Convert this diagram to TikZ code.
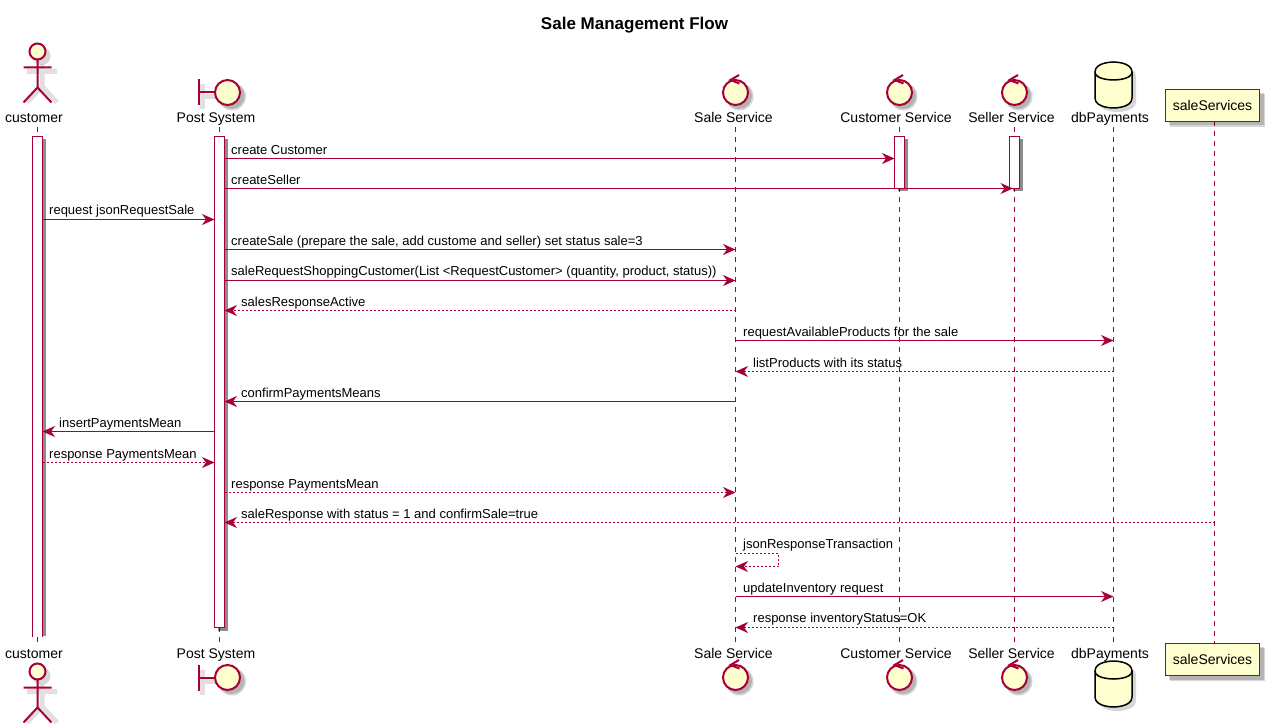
\documentclass[tikz,border=0pt]{standalone}
\usepackage{fontspec}
\setmainfont{Liberation Sans}
\usetikzlibrary{arrows.meta}
\usetikzlibrary{calc}
\usetikzlibrary{shadows}
\definecolor{umlred}{HTML}{A80036}
\definecolor{umlfill}{HTML}{FEFECE}
\tikzset{
  call/.style={draw=umlred, line width=1.15pt, -{Stealth[length=12.5pt,width=11pt,inset=4pt]}},
  reply/.style={call, dash pattern=on 2pt off 2pt},
  lifeline/.style={draw=umlred, line width=1.1pt, dash pattern=on 5pt off 5pt},
  barbox/.style={draw=umlred, line width=1.15pt, fill=white, minimum width=10pt, inner sep=0pt, outer sep=0pt,
    drop shadow={shadow xshift=3pt, shadow yshift=-3pt, fill=black, opacity=0.45}},
  msglabel/.style={anchor=base west, inner sep=0pt, font=\fontsize{13}{15}\selectfont},
  partlabel/.style={anchor=base, inner sep=0pt, font=\fontsize{14}{16}\selectfont},
  servicebox/.style={draw=umlred, line width=1.5pt, fill=umlfill, minimum width=94pt, minimum height=32pt, inner sep=0pt, outer sep=0pt,
    font=\fontsize{14}{16}\selectfont},
  figline/.style={draw=umlred, line width=2pt},
  softline/.style={draw=black, opacity=0.12, line width=5pt},
  softfill/.style={fill=black, opacity=0.16}
}
\begin{document}
\begin{tikzpicture}[x=1pt,y=-1pt]
\useasboundingbox (0,0) rectangle (1272,727);

% lifelines
\coordinate (lifeCustomer) at (37.5,0);
\coordinate (lifePost) at (219.5,0);
\coordinate (lifeSale) at (735.5,0);
\coordinate (lifeClient) at (899.5,0);
\coordinate (lifeSeller) at (1014.5,0);
\coordinate (lifeDb) at (1113.5,0);
\coordinate (lifeServices) at (1214.5,0);

\foreach \life in {lifeCustomer,lifePost,lifeSale,lifeClient,lifeSeller,lifeDb}
  \draw[lifeline] (\life |- 0,127) -- (\life |- 0,642);
\draw[lifeline] (lifeServices |- 0,121) -- (lifeServices |- 0,643);

\node[inner sep=0pt, font=\fontsize{17}{20}\bfseries\selectfont] (title) at (634.5,25) {Sale Management Flow};

% actor, top and bottom
\foreach \hy in {51.5,671.5}{
  \draw[softline] (42,\hy+13) -- (42,\hy+35) (27,\hy+20) -- (57,\hy+20) (27,\hy+51) -- (42,\hy+35) -- (57,\hy+51);
  \fill[softfill] (41.5,\hy+4.5) circle [radius=9];
  \draw[figline, fill=umlfill] (37.5,\hy) circle [radius=8];
  \draw[figline] (37.5,\hy+8) -- (37.5,\hy+36) (23.5,\hy+16) -- (51.5,\hy+16) (23.5,\hy+51) -- (37.5,\hy+36) -- (51.5,\hy+51);
}

% boundary, top and bottom
\foreach \hy in {92.5,677.5}{
  \draw[softline] (202,\hy-8) -- (202,\hy+17) (202,\hy+4) -- (220,\hy+4);
  \fill[softfill] (232,\hy+4) circle [radius=14];
  \fill[softfill] (231.5,\hy+3.5) circle [radius=13];
  \draw[figline] (198.5,\hy-13) -- (198.5,\hy+13) (198.5,\hy) -- (215,\hy);
  \draw[figline, fill=umlfill] (227.5,\hy) circle [radius=12.5];
}

% control, three services, top and bottom
\foreach \cx in {735.5,899.5,1014.5}{
  \foreach \hy in {92.5,677.5}{
    \fill[softfill] (\cx+4,\hy+4) circle [radius=14];
    \fill[softfill] (\cx+3.5,\hy+3.5) circle [radius=13];
    \draw[figline, fill=umlfill] (\cx,\hy) circle [radius=12.5];
    \draw[figline, line join=miter] (\cx+3.5,\hy-17.5) -- (\cx-5,\hy-12.5) -- (\cx+4,\hy-9);
  }
}

% database, top and bottom
\foreach \ty in {62,661}{
  \fill[softfill] (1099,\ty+14) .. controls (1099,\ty+4) and (1117,\ty+4) .. (1117,\ty+4) .. controls (1117,\ty+4) and (1136,\ty+4) .. (1136,\ty+14)
    -- (1136,\ty+40) .. controls (1136,\ty+50) and (1117,\ty+50) .. (1117,\ty+50) .. controls (1117,\ty+50) and (1099,\ty+50) .. (1099,\ty+40) -- cycle;
  \draw[line width=1.5pt, fill=umlfill] (1095,\ty+10) .. controls (1095,\ty) and (1113.5,\ty) .. (1113.5,\ty) .. controls (1113.5,\ty) and (1132,\ty) .. (1132,\ty+10)
    -- (1132,\ty+36) .. controls (1132,\ty+46) and (1113.5,\ty+46) .. (1113.5,\ty+46) .. controls (1113.5,\ty+46) and (1095,\ty+46) .. (1095,\ty+36) -- cycle;
  \draw[line width=1.5pt] (1095,\ty+10) .. controls (1095,\ty+18) and (1113.5,\ty+18) .. (1113.5,\ty+18) .. controls (1113.5,\ty+18) and (1132,\ty+18) .. (1132,\ty+10);
}

% saleServices boxes
\fill[softfill] (1170,94) rectangle (1265,127);
\fill[softfill] (1169,93) rectangle (1263.5,125.5);
\fill[softfill] (1170,648) rectangle (1265,681);
\fill[softfill] (1169,647) rectangle (1263.5,679.5);
\node[servicebox] (servicesTop) at (1212.5,105.5) {saleServices};
\node[servicebox] (servicesBottom) at (1212.5,659.5) {saleServices};

% participant names
\node[partlabel] (customerTop) at (34,123) {customer};
\node[partlabel] (postTop) at (216,123) {Post System};
\node[partlabel] (saleTop) at (733.5,123) {Sale Service};
\node[partlabel] (clientTop) at (896,123) {Customer Service};
\node[partlabel] (sellerTop) at (1011.5,123) {Seller Service};
\node[partlabel] (dbTop) at (1110,123) {dbPayments};
\node[partlabel] (customerBottom) at (34,658) {customer};
\node[partlabel] (postBottom) at (216,658) {Post System};
\node[partlabel] (saleBottom) at (733.5,658) {Sale Service};
\node[partlabel] (clientBottom) at (896,658) {Customer Service};
\node[partlabel] (sellerBottom) at (1011.5,658) {Seller Service};
\node[partlabel] (dbBottom) at (1110,658) {dbPayments};

% activation bars
\fill[black, opacity=0.45] (42.5,139) rectangle (45.5,636);
\node[fill=white, minimum width=10pt, minimum height=500pt, inner sep=0pt, outer sep=0pt] (barCustomer) at (37.5,386.5) {};
\draw[draw=umlred, line width=1.15pt] (barCustomer.south west) -- (barCustomer.north west) -- (barCustomer.north east) -- (barCustomer.south east);
\node[barbox, minimum height=491pt] (barPost) at (219.5,382) {};
\node[barbox, minimum height=52pt] (barClient) at (899.5,162.5) {};
\node[barbox, minimum height=52pt] (barSeller) at (1014.5,162.5) {};

% messages
\draw[call] (barPost.east |- 0,158.5) -- (barClient.west |- 0,158.5);
\node[msglabel] (m1) at (231,154.5) {create Customer};
\draw[call, shorten >=1.5pt] (barPost.east |- 0,188.5) -- (barSeller.center |- 0,188.5);
\node[msglabel] (m2) at (231,184.5) {createSeller};
\draw[call] (barCustomer.east |- 0,219.5) -- (barPost.west |- 0,219.5);
\node[msglabel] (m3) at (49,215) {request jsonRequestSale};
\draw[call] (barPost.east |- 0,249.5) -- (lifeSale |- 0,249.5);
\node[msglabel] (m4) at (231,245.5) {createSale (prepare the sale, add custome and seller) set status sale=3};
\draw[call] (barPost.east |- 0,280.5) -- (lifeSale |- 0,280.5);
\node[msglabel] (m5) at (231,276) {saleRequestShoppingCustomer(List <RequestCustomer> (quantity, product, status))};
\draw[reply] (lifeSale |- 0,310.5) -- (barPost.east |- 0,310.5);
\node[msglabel] (m6) at (241,306.5) {salesResponseActive};
\draw[call] (lifeSale |- 0,340.5) -- (lifeDb |- 0,340.5);
\node[msglabel] (m7) at (743,336.5) {requestAvailableProducts for the sale};
\draw[reply] (lifeDb |- 0,371.5) -- (lifeSale |- 0,371.5);
\node[msglabel] (m8) at (753,367) {listProducts with its status};
\draw[call] (lifeSale |- 0,401.5) -- (barPost.east |- 0,401.5);
\node[msglabel] (m9) at (241,397) {confirmPaymentsMeans};
\draw[call] (barPost.west |- 0,431.5) -- (barCustomer.east |- 0,431.5);
\node[msglabel] (m10) at (59,427.5) {insertPaymentsMean};
\draw[reply] (barCustomer.east |- 0,462.5) -- (barPost.west |- 0,462.5);
\node[msglabel] (m11) at (49,458) {response PaymentsMean};
\draw[reply] (barPost.east |- 0,492.5) -- (lifeSale |- 0,492.5);
\node[msglabel] (m12) at (231,488) {response PaymentsMean};
\draw[reply] (lifeServices |- 0,522.5) -- (barPost.east |- 0,522.5);
\node[msglabel] (m13) at (241,518) {saleResponse with status = 1 and confirmSale=true};
\draw[reply] (lifeSale |- 0,553.5) -- ++(43,0) -- ++(0,13) -- (lifeSale |- 0,566.5);
\node[msglabel] (m14) at (743,548) {jsonResponseTransaction};
\draw[call] (lifeSale |- 0,596.5) -- (lifeDb |- 0,596.5);
\node[msglabel] (m15) at (743,592) {updateInventory request};
\draw[reply] (lifeDb |- 0,627.5) -- (lifeSale |- 0,627.5);
\node[msglabel] (m16) at (753,622) {response inventoryStatus=OK};

\end{tikzpicture}
\end{document}
